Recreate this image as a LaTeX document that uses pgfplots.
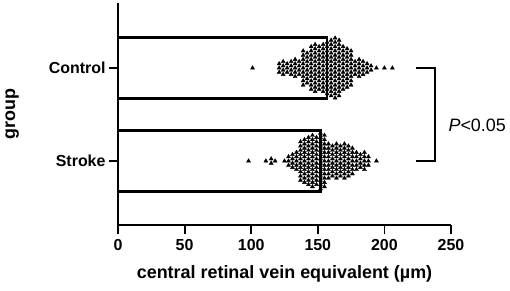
\documentclass[border=0pt]{standalone}
\usepackage{pgfplots}
\pgfplotsset{compat=1.18}
\usepackage{fontspec}
\setmainfont{Liberation Sans}
\begin{document}
\begin{tikzpicture}[x=1bp,y=1bp]
\useasboundingbox (-118,-65) rectangle (392,225);
\begin{axis}[
  at={(0,0)}, anchor=south west,
  scale only axis, width=333bp, height=222bp,
  xmin=0, xmax=250, ymin=0.312, ymax=2.699,
  axis x line*=bottom, axis y line*=left,
  axis line style={-, line width=1.8bp, black},
  xtick={0,50,100,150,200,250},
  ytick={1,2}, yticklabels={Stroke,Control},
  tick align=outside,
  major tick length=9bp,
  tick style={line width=1.8bp, black},
  /pgf/number format/assume math mode=true,
  tick label style={font=\fontsize{16}{19}\selectfont\bfseries},
  xticklabel style={yshift=-2bp},
  label style={font=\fontsize{18}{21}\selectfont\bfseries},
  xlabel={central retinal vein equivalent (µm)},
  xlabel style={at={(axis description cs:0.5,0)}, anchor=base, yshift=-53bp},
  ylabel={group},
  ylabel style={at={(axis description cs:-0.318,0.5)}, anchor=center},
  clip=false,
]
\addplot[only marks, mark=triangle*, mark size=2.3bp, black] coordinates {
(101,2)
(121,1.954)(121,2)(121,2.046)
(124,1.931)(124,1.977)(124,2.023)(124,2.069)
(127,1.954)(127,2)(127,2.046)
(130,1.931)(130,1.977)(130,2.023)(130,2.069)
(133,1.908)(133,1.954)(133,2)(133,2.046)(133,2.092)
(136,1.931)(136,1.977)(136,2.023)(136,2.069)
(139,1.816)(139,1.862)(139,1.908)(139,1.954)(139,2)(139,2.046)(139,2.092)(139,2.138)(139,2.184)
(142,1.839)(142,1.885)(142,1.931)(142,1.977)(142,2.023)(142,2.069)(142,2.115)(142,2.161)
(145,1.770)(145,1.816)(145,1.862)(145,1.908)(145,1.954)(145,2)(145,2.046)(145,2.092)(145,2.138)(145,2.184)(145,2.230)
(148,1.747)(148,1.793)(148,1.839)(148,1.885)(148,1.931)(148,1.977)(148,2.023)(148,2.069)(148,2.115)(148,2.161)(148,2.207)(148,2.253)
(151,1.770)(151,1.816)(151,1.862)(151,1.908)(151,1.954)(151,2)(151,2.046)(151,2.092)(151,2.138)(151,2.184)(151,2.230)
(154,1.747)(154,1.793)(154,1.839)(154,1.885)(154,1.931)(154,1.977)(154,2.023)(154,2.069)(154,2.115)(154,2.161)(154,2.207)(154,2.253)
(157,1.724)(157,1.770)(157,1.816)(157,1.862)(157,1.908)(157,1.954)(157,2)(157,2.046)(157,2.092)(157,2.138)(157,2.184)(157,2.230)(157,2.276)
(160,1.701)(160,1.747)(160,1.793)(160,1.839)(160,1.885)(160,1.931)(160,1.977)(160,2.023)(160,2.069)(160,2.115)(160,2.161)(160,2.207)(160,2.253)(160,2.299)
(163,1.678)(163,1.724)(163,1.770)(163,1.816)(163,1.862)(163,1.908)(163,1.954)(163,2)(163,2.046)(163,2.092)(163,2.138)(163,2.184)(163,2.230)(163,2.276)(163,2.322)
(166,1.701)(166,1.747)(166,1.793)(166,1.839)(166,1.885)(166,1.931)(166,1.977)(166,2.023)(166,2.069)(166,2.115)(166,2.161)(166,2.207)(166,2.253)(166,2.299)
(169,1.770)(169,1.816)(169,1.862)(169,1.908)(169,1.954)(169,2)(169,2.046)(169,2.092)(169,2.138)(169,2.184)(169,2.230)
(172,1.793)(172,1.839)(172,1.885)(172,1.931)(172,1.977)(172,2.023)(172,2.069)(172,2.115)(172,2.161)(172,2.207)
(175,1.816)(175,1.862)(175,1.908)(175,1.954)(175,2)(175,2.046)(175,2.092)(175,2.138)(175,2.184)
(178,1.931)(178,1.977)(178,2.023)(178,2.069)
(181,1.908)(181,1.954)(181,2)(181,2.046)(181,2.092)
(184,1.931)(184,1.977)(184,2.023)(184,2.069)
(187,1.954)(187,2)(187,2.046)
(190,1.977)(190,2.023)
(194,2)
(200,2)
(206,2)
};
\addplot[only marks, mark=triangle*, mark size=2.3bp, black] coordinates {
(98,1)
(111,1)
(115,0.977)(115,1.023)
(118,1)
(125,1)
(128,0.954)(128,1)(128,1.046)
(131,0.931)(131,0.977)(131,1.023)(131,1.069)
(134,0.908)(134,0.954)(134,1)(134,1.046)(134,1.092)
(137,0.793)(137,0.839)(137,0.885)(137,0.931)(137,0.977)(137,1.023)(137,1.069)(137,1.115)(137,1.161)(137,1.207)
(140,0.770)(140,0.816)(140,0.862)(140,0.908)(140,0.954)(140,1)(140,1.046)(140,1.092)(140,1.138)(140,1.184)(140,1.230)
(143,0.747)(143,0.793)(143,0.839)(143,0.885)(143,0.931)(143,0.977)(143,1.023)(143,1.069)(143,1.115)(143,1.161)(143,1.207)(143,1.253)
(146,0.724)(146,0.770)(146,0.816)(146,0.862)(146,0.908)(146,0.954)(146,1)(146,1.046)(146,1.092)(146,1.138)(146,1.184)(146,1.230)(146,1.276)
(149,0.747)(149,0.793)(149,0.839)(149,0.885)(149,0.931)(149,0.977)(149,1.023)(149,1.069)(149,1.115)(149,1.161)(149,1.207)(149,1.253)
(152,0.701)(152,0.747)(152,0.793)(152,0.839)(152,0.885)(152,0.931)(152,0.977)(152,1.023)(152,1.069)(152,1.115)(152,1.161)(152,1.207)(152,1.253)(152,1.299)
(155,0.724)(155,0.770)(155,0.816)(155,0.862)(155,0.908)(155,0.954)(155,1)(155,1.046)(155,1.092)(155,1.138)(155,1.184)(155,1.230)(155,1.276)
(158,0.816)(158,0.862)(158,0.908)(158,0.954)(158,1)(158,1.046)(158,1.092)(158,1.138)(158,1.184)
(161,0.839)(161,0.885)(161,0.931)(161,0.977)(161,1.023)(161,1.069)(161,1.115)(161,1.161)
(164,0.816)(164,0.862)(164,0.908)(164,0.954)(164,1)(164,1.046)(164,1.092)(164,1.138)(164,1.184)
(167,0.839)(167,0.885)(167,0.931)(167,0.977)(167,1.023)(167,1.069)(167,1.115)(167,1.161)
(170,0.816)(170,0.862)(170,0.908)(170,0.954)(170,1)(170,1.046)(170,1.092)(170,1.138)(170,1.184)
(173,0.839)(173,0.885)(173,0.931)(173,0.977)(173,1.023)(173,1.069)(173,1.115)(173,1.161)
(176,0.862)(176,0.908)(176,0.954)(176,1)(176,1.046)(176,1.092)(176,1.138)
(179,0.908)(179,0.954)(179,1)(179,1.046)(179,1.092)
(182,0.931)(182,0.977)(182,1.023)(182,1.069)
(185,0.908)(185,0.954)(185,1)(185,1.046)(185,1.092)
(188,0.954)(188,1)(188,1.046)
(194,1)
};
\addplot[xbar, bar width=0.656, draw=black, line width=2.4bp, fill=none] coordinates {(157,2) (152,1)};
\draw[line width=2bp, black] (axis cs:223.5,2) -- (axis cs:238,2) -- (axis cs:238,1) -- (axis cs:223.5,1);
\node[anchor=base west, inner sep=0pt, font=\fontsize{18}{21}\selectfont] at (axis cs:248,1.317) {\textit{P}<0.05};
\end{axis}
\end{tikzpicture}
\end{document}
